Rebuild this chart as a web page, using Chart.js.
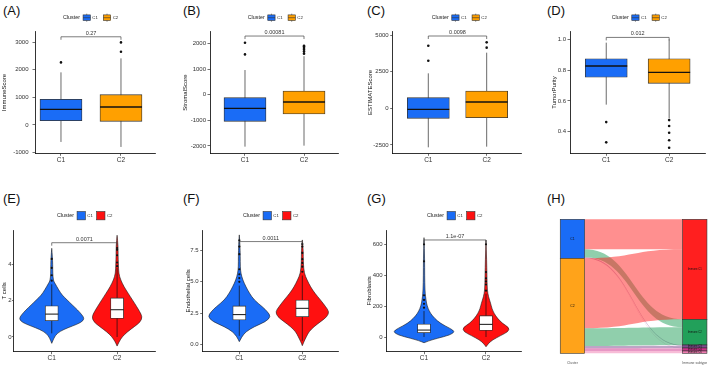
<!DOCTYPE html>
<html>
<head>
<meta charset="utf-8">
<title>Cluster comparison</title>
<script src="https://cdn.jsdelivr.net/npm/chart.js@4.4.1/dist/chart.umd.min.js"></script>
<style>
  body { margin: 0; width: 709px; height: 365px; position: relative; overflow: hidden; background: #fff; font-family: "Liberation Sans", Arial, sans-serif; }
  canvas { position: absolute; }
  .tag { position: absolute; font-size: 13px; line-height: 13px; color: #111; }
</style>
</head>
<body>
<div class="tag" style="left:3px;top:4px">(A)</div>
<div class="tag" style="left:183px;top:4px">(B)</div>
<div class="tag" style="left:367px;top:4px">(C)</div>
<div class="tag" style="left:547px;top:4px">(D)</div>
<div class="tag" style="left:3px;top:192px">(E)</div>
<div class="tag" style="left:183px;top:192px">(F)</div>
<div class="tag" style="left:367px;top:192px">(G)</div>
<div class="tag" style="left:547px;top:192px">(H)</div>
<script>
const FONT = "'Liberation Sans', Arial, sans-serif";

const groups = ["C1", "C2"];
const boxFill = ["#1a6cf6", "#ffa000"];
const violinFill = ["#1a6cf6", "#ff1010"];

// box plots: [lower whisker, Q1, median, Q3, upper whisker]
const immuneBox = [[-614, 157, 566, 928, 1904], [-795, 133, 651, 1096, 2410]];
const immuneOut = [[2265], [2651, 2988]];
const immuneTicks = [-1000, 0, 1000, 2000, 3000];

const stromalBox = [[-2026, -1039, -532, -117, 961], [-1987, -753, -286, 143, 1500]];
const stromalOut = [[1571, 2026], [1600, 1680, 1750, 1820, 1880, 1910]];
const stromalTicks = [-2000, -1000, 0, 1000, 2000];

const estimateBox = [[-2666, -684, -68, 729, 2393], [-2621, -638, 433, 1185, 3806]];
const estimateOut = [[3258, 4284], [4148, 4512]];
const estimateTicks = [-2500, 0, 2500, 5000];

const purityBox = [[0.576, 0.753, 0.826, 0.873, 0.977], [0.487, 0.714, 0.785, 0.873, 0.998]];
const purityOut = [[0.463, 0.332], [0.476, 0.438, 0.394, 0.345, 0.297]];
const purityTicks = [0.4, 0.6, 0.8, 1.0];

// violins: density profile (relative width) at each level, plus inner box
const tcellBox = [[0.2, 0.9, 1.26, 1.72, 2.9], [0.0, 1.02, 1.5, 2.15, 3.8]];
const tcellOut = [[3.1, 3.4, 3.8, 4.3], [3.9, 4.1, 4.5, 4.8, 4.9]];
const tcellTicks = [0, 2, 4];
const tcellLevels = [
  [-0.35, -0.07, 0.2, 0.42, 0.6, 0.8, 1.0, 1.21, 1.49, 1.76, 2.04, 2.3, 2.6, 2.95, 3.1, 3.5, 4.0, 4.4, 4.88],
  [-0.5, -0.26, 0.02, 0.29, 0.57, 0.84, 1.12, 1.4, 1.67, 2.04, 2.4, 2.77, 3.14, 3.5, 4.0, 4.5, 5.0, 5.6]
];
const tcellDensity = [
  [0, 0.06, 0.16, 0.37, 0.63, 0.9, 1, 0.93, 0.79, 0.63, 0.47, 0.32, 0.21, 0.1, 0.05, 0.03, 0.03, 0.02, 0],
  [0, 0.06, 0.16, 0.32, 0.53, 0.72, 0.77, 0.69, 0.6, 0.47, 0.34, 0.21, 0.11, 0.05, 0.04, 0.03, 0.03, 0]
];

const endoBox = [[0.7, 1.96, 2.39, 3.08, 4.7], [0.3, 2.23, 2.89, 3.55, 5.5]];
const endoOut = [[5.0, 5.3, 5.6, 6.0, 7.2, 7.8, 8.3], [5.8, 6.2, 6.5, 6.8, 7.3, 7.8, 8.0]];
const endoTicks = [0, 2.5, 5, 7.5];
const endoLevels = [
  [0.24, 0.64, 1.03, 1.43, 1.83, 2.23, 2.63, 3.0, 3.55, 4.1, 4.6, 5.15, 5.68, 6.2, 7.0, 8.0, 8.73],
  [-0.08, 0.24, 0.64, 1.03, 1.43, 1.83, 2.23, 2.63, 3.02, 3.55, 4.08, 4.6, 5.15, 5.68, 6.5, 7.5, 8.33]
];
const endoDensity = [
  [0, 0.08, 0.21, 0.47, 0.84, 1, 0.89, 0.74, 0.47, 0.32, 0.21, 0.11, 0.05, 0.03, 0.03, 0.02, 0],
  [0, 0.05, 0.13, 0.21, 0.37, 0.58, 0.79, 0.85, 0.74, 0.58, 0.4, 0.26, 0.15, 0.06, 0.03, 0.03, 0]
];

const fibroBox = [[0, 28, 45, 84, 168], [0, 43, 82, 138, 280]];
const fibroOut = [[190, 215, 240, 270, 490, 600], [300, 340, 360, 380, 420, 600]];
const fibroTicks = [0, 200, 400, 600];
const fibroLevels = [
  [-37, -24, -9, 13, 35, 56, 88, 121, 153, 185, 218, 261, 304, 400, 500, 643],
  [-63, -41, -19, 9, 35, 60, 88, 121, 153, 185, 218, 261, 304, 400, 500, 628]
];
const fibroDensity = [
  [0, 0.16, 0.42, 0.84, 1, 0.84, 0.53, 0.34, 0.21, 0.13, 0.08, 0.05, 0.03, 0.02, 0.02, 0],
  [0, 0.08, 0.21, 0.47, 0.72, 0.75, 0.53, 0.37, 0.26, 0.19, 0.15, 0.08, 0.04, 0.03, 0.02, 0]
];

// alluvial: sample counts, rows = cluster, columns = immune subtype
const clusterNames = ["C1", "C2"];
const subtypeNames = ["Immune C1", "Immune C2", "Immune C3", "Immune C4", "Immune C6"];
const clusterToSubtype = [
  [90, 24, 2, 1, 0],
  [210, 53, 7, 8, 7]
];
const clusterFill = ["#1a6cf6", "#ffa31a"];
const subtypeFill = ["#ff1f1f", "#22a05a", "#7e4a8e", "#d0308c", "#f07ab0"];

// ---------- panel layout (page pixels)
const topRow = { top: 8, height: 164, plotTop: 31.7, plotBottom: 153.3, legendY: 17.7 };
const botRow = { top: 200, height: 165, plotTop: 230, plotBottom: 351.7, legendY: 215.7 };

const panels = [
  { row: topRow, left: 0, width: 165, axisX: 35, plotRight: 155, xMin: 0.567, xMax: 2.567, yMin: -1025, yMax: 3375,
    title: "ImmuneScore", box: immuneBox, out: immuneOut, ticks: immuneTicks, dec: 0, pText: "0.27", pAt: 3191, legendX: 63, tickPad: 4 },
  { row: topRow, left: 181, width: 162, axisX: 210, plotRight: 338, xMin: 0.407, xMax: 2.576, yMin: -2285, yMax: 2455,
    title: "StromalScore", box: stromalBox, out: stromalOut, ticks: stromalTicks, dec: 0, pText: "0.00081", pAt: 2286, legendX: 247.7 },
  { row: topRow, left: 366, width: 161, axisX: 392.7, plotRight: 521.7, xMin: 0.39, xMax: 2.6, yMin: -3075, yMax: 5240,
    title: "ESTIMATEScore", box: estimateBox, out: estimateOut, ticks: estimateTicks, dec: 0, pText: "0.0098", pAt: 4945, legendX: 431.7 },
  { row: topRow, left: 550, width: 159, axisX: 570, plotRight: 705, xMin: 0.424, xMax: 2.57, yMin: 0.261, yMax: 1.048,
    title: "TumorPurity", box: purityBox, out: purityOut, ticks: purityTicks, dec: 1, pText: "0.012", pAt: 1.011, legendX: 611.7 },
  { row: botRow, left: 0, width: 160, axisX: 13.7, plotRight: 155, xMin: 0.418, xMax: 2.58, yMin: -0.81, yMax: 5.89, violin: true,
    title: "T cells", box: tcellBox, out: tcellOut, ticks: tcellTicks, dec: 0, levels: tcellLevels, density: tcellDensity, pText: "0.0071", pAt: 5.19, legendX: 57, tickPad: 0.3, tickLen: 1.8 },
  { row: botRow, left: 184, width: 159, axisX: 202.7, plotRight: 338.3, xMin: 0.419, xMax: 2.571, yMin: -0.56, yMax: 9.12, violin: true,
    title: "Endothelial cells", box: endoBox, out: endoOut, ticks: endoTicks, dec: 1, levels: endoLevels, density: endoDensity, pText: "0.0011", pAt: 8.2, legendX: 243 },
  { row: botRow, left: 365, width: 162, axisX: 386.7, plotRight: 521.7, xMin: 0.398, xMax: 2.576, yMin: -95, yMax: 692.6, violin: true,
    title: "Fibroblasts", box: fibroBox, out: fibroOut, ticks: fibroTicks, dec: 0, levels: fibroLevels, density: fibroDensity, pText: "1.1e-07", pAt: 628, legendX: 427 }
];

function makeCanvas(left, top, width, height) {
  const c = document.createElement("canvas");
  c.width = width;
  c.height = height;
  c.style.left = left + "px";
  c.style.top = top + "px";
  document.body.appendChild(c);
  return c.getContext("2d");
}

function hexAlpha(hex, a) {
  const n = parseInt(hex.slice(1), 16);
  return `rgba(${n >> 16},${(n >> 8) & 255},${n & 255},${a})`;
}

function drawLegend(ctx, x, y, fills, boxGlyph) {
  const w = boxGlyph ? 7.3 : 8.3, h = boxGlyph ? 5.6 : 8.3;
  ctx.save();
  ctx.textBaseline = "middle";
  ctx.fillStyle = "#222";
  ctx.font = `5.4px ${FONT}`;
  ctx.fillText("Cluster", x, y);
  x += ctx.measureText("Cluster").width + 3;
  groups.forEach((g, i) => {
    ctx.fillStyle = fills[i];
    ctx.fillRect(x, y - h / 2, w, h);
    ctx.strokeStyle = "#333";
    ctx.lineWidth = 0.6;
    ctx.strokeRect(x, y - h / 2, w, h);
    if (boxGlyph) {
      ctx.beginPath();
      ctx.moveTo(x, y); ctx.lineTo(x + w, y);
      ctx.moveTo(x + w / 2, y - h / 2 - 1.2); ctx.lineTo(x + w / 2, y - h / 2);
      ctx.moveTo(x + w / 2, y + h / 2); ctx.lineTo(x + w / 2, y + h / 2 + 1.2);
      ctx.stroke();
    }
    x += w + 2;
    ctx.fillStyle = "#222";
    ctx.font = `4.3px ${FONT}`;
    ctx.fillText(g, x, y);
    x += ctx.measureText(g).width + (boxGlyph ? 5.5 : 3.8);
  });
  ctx.restore();
}

function violinPath(ctx, x, y, i, levels, dens) {
  const pts = [];
  levels.forEach((lv, k) => pts.push([x.getPixelForValue(i + 1 + dens[k] * 0.5), y.getPixelForValue(lv)]));
  for (let k = levels.length - 1; k >= 0; k--) {
    pts.push([x.getPixelForValue(i + 1 - dens[k] * 0.5), y.getPixelForValue(levels[k])]);
  }
  ctx.beginPath();
  ctx.moveTo(pts[0][0], pts[0][1]);
  for (let k = 1; k < pts.length - 1; k++) {
    ctx.quadraticCurveTo(pts[k][0], pts[k][1], (pts[k][0] + pts[k + 1][0]) / 2, (pts[k][1] + pts[k + 1][1]) / 2);
  }
  ctx.lineTo(pts[pts.length - 1][0], pts[pts.length - 1][1]);
  ctx.closePath();
}

function statsPlugin(p) {
  const boxW = p.violin ? 13 : 42;
  return {
    id: "stats",
    beforeDatasetsDraw(chart) {
      const { ctx, scales: { x, y } } = chart;
      ctx.save();
      p.box.forEach((b, i) => {
        const cx = x.getPixelForValue(i + 1);
        if (p.violin) {
          violinPath(ctx, x, y, i, p.levels[i], p.density[i]);
          ctx.fillStyle = violinFill[i];
          ctx.fill();
          ctx.strokeStyle = "#1a1a1a";
          ctx.lineWidth = 0.6;
          ctx.stroke();
        }
        ctx.strokeStyle = p.violin ? "#111" : "#444";
        ctx.lineWidth = p.violin ? 0.7 : 0.8;
        ctx.beginPath();
        ctx.moveTo(cx, y.getPixelForValue(b[0]));
        ctx.lineTo(cx, y.getPixelForValue(b[4]));
        ctx.stroke();
      });
      ctx.restore();
    },
    afterDatasetsDraw(chart) {
      const { ctx, scales: { x, y } } = chart;
      ctx.save();
      ctx.strokeStyle = "#111";
      ctx.lineWidth = p.violin ? 1 : 1.3;
      p.box.forEach((b, i) => {
        const cx = x.getPixelForValue(i + 1), my = y.getPixelForValue(b[2]);
        ctx.beginPath();
        ctx.moveTo(cx - boxW / 2, my);
        ctx.lineTo(cx + boxW / 2, my);
        ctx.stroke();
      });
      ctx.restore();
    },
    afterDraw(chart) {
      const { ctx, scales: { x, y } } = chart;
      const x1 = x.getPixelForValue(1), x2 = x.getPixelForValue(2), by = y.getPixelForValue(p.pAt);
      ctx.save();
      ctx.strokeStyle = "#444";
      ctx.lineWidth = 0.7;
      ctx.beginPath();
      ctx.moveTo(x1, by + 3); ctx.lineTo(x1, by); ctx.lineTo(x2, by); ctx.lineTo(x2, by + 3);
      ctx.stroke();
      ctx.fillStyle = "#333";
      ctx.font = `5.5px ${FONT}`;
      ctx.textAlign = "center";
      ctx.textBaseline = "bottom";
      ctx.fillText(p.pText, (x1 + x2) / 2, by - 0.8);
      ctx.restore();
      drawLegend(ctx, p.legendX - p.left, p.row.legendY - p.row.top, p.violin ? violinFill : boxFill, !p.violin);
    }
  };
}

function panelChart(p) {
  const row = p.row;
  const ctx = makeCanvas(p.left, row.top, p.width, row.height);
  const xGrid = { drawOnChartArea: false, offset: false, tickLength: 2.5, color: "#333", lineWidth: 0.7 };
  const yGrid = { drawOnChartArea: false, offset: false, tickLength: p.tickLen || 2.5, color: "#333", lineWidth: 0.7 };
  const outliers = [];
  p.out.forEach((vals, i) => vals.forEach(v => outliers.push({ x: i + 1, y: v })));

  new Chart(ctx, {
    type: "bar",
    data: {
      datasets: [
        { type: "scatter", data: outliers, pointRadius: p.violin ? 1.1 : 1.3, pointBackgroundColor: "#111", pointBorderWidth: 0 },
        {
          data: p.box.map((b, i) => ({ x: i + 1, y: [b[1], b[3]] })),
          backgroundColor: p.violin ? "#ffffff" : boxFill,
          borderColor: "#333",
          borderWidth: 0.8,
          borderSkipped: false,
          barThickness: p.violin ? 13 : 42
        }
      ]
    },
    options: {
      responsive: false,
      animation: false,
      devicePixelRatio: 1,
      layout: { padding: { top: row.plotTop - row.top, right: p.left + p.width - p.plotRight, left: 0, bottom: 0 } },
      plugins: { legend: { display: false }, tooltip: { enabled: false } },
      scales: {
        x: {
          type: "linear", min: p.xMin, max: p.xMax, offset: false,
          afterFit: s => { s.height = row.top + row.height - row.plotBottom; },
          afterBuildTicks: s => { s.ticks = groups.map((g, i) => ({ value: i + 1 })); },
          ticks: { callback: v => groups[v - 1], font: { family: FONT, size: 6.5 }, color: "#333", padding: p.violin ? 0 : 1, maxRotation: 0, autoSkip: false },
          grid: xGrid,
          border: { color: "#000", width: 0.8 }
        },
        y: {
          type: "linear", min: p.yMin, max: p.yMax,
          afterFit: s => { s.width = p.axisX - p.left; },
          afterBuildTicks: s => { s.ticks = p.ticks.map(v => ({ value: v })); },
          ticks: { callback: v => v.toFixed(p.dec), font: { family: FONT, size: 6 }, color: "#333", padding: p.tickPad || 1.5, autoSkip: false },
          grid: yGrid,
          border: { color: "#000", width: 0.8 },
          title: { display: true, text: p.title, font: { family: FONT, size: 6 }, color: "#111", padding: { top: 1, bottom: 0 } }
        }
      }
    },
    plugins: [statsPlugin(p)]
  });
}

panels.forEach(panelChart);

// ---------- (H) alluvial plot
function alluvialPlugin() {
  return {
    id: "alluvium",
    afterDraw(chart) {
      const { ctx, scales: { x, y } } = chart;
      const sum = a => a.reduce((s, v) => s + v, 0);
      const leftTop = [];
      let acc = 0;
      clusterToSubtype.forEach(row => { leftTop.push(acc); acc += sum(row); });
      const subTotal = subtypeNames.map((_, j) => sum(clusterToSubtype.map(row => row[j])));
      const rightTop = [];
      acc = 0;
      subTotal.forEach(t => { rightTop.push(acc); acc += t; });

      const lCur = leftTop.slice(), rCur = rightTop.slice();
      const xa = x.getPixelForValue(1.1), xb = x.getPixelForValue(1.9), xm = (xa + xb) / 2;
      ctx.save();
      clusterToSubtype.forEach((row, i) => row.forEach((n, j) => {
        if (!n) return;
        const l0 = y.getPixelForValue(lCur[i]), l1 = y.getPixelForValue(lCur[i] + n);
        const r0 = y.getPixelForValue(rCur[j]), r1 = y.getPixelForValue(rCur[j] + n);
        lCur[i] += n;
        rCur[j] += n;
        ctx.beginPath();
        ctx.moveTo(xa, l0);
        ctx.bezierCurveTo(xm, l0, xm, r0, xb, r0);
        ctx.lineTo(xb, r1);
        ctx.bezierCurveTo(xm, r1, xm, l1, xa, l1);
        ctx.closePath();
        ctx.fillStyle = hexAlpha(subtypeFill[j], 0.5);
        ctx.fill();
      }));

      const stratum = (axisVal, top, n, fill, label, size) => {
        const x0 = x.getPixelForValue(axisVal - 0.1), x1 = x.getPixelForValue(axisVal + 0.1);
        const y0 = y.getPixelForValue(top), y1 = y.getPixelForValue(top + n);
        ctx.fillStyle = fill;
        ctx.fillRect(x0, y0, x1 - x0, y1 - y0);
        ctx.strokeStyle = "#333";
        ctx.lineWidth = 0.6;
        ctx.strokeRect(x0, y0, x1 - x0, y1 - y0);
        ctx.fillStyle = "#111";
        ctx.font = `${size}px ${FONT}`;
        ctx.textAlign = "center";
        ctx.textBaseline = "middle";
        ctx.fillText(label, (x0 + x1) / 2, (y0 + y1) / 2);
      };
      clusterNames.forEach((c, i) => stratum(1, leftTop[i], sum(clusterToSubtype[i]), clusterFill[i], c, 3.4));
      subtypeNames.forEach((s, j) => stratum(2, rightTop[j], subTotal[j], subtypeFill[j], s, 2.7));

      ctx.fillStyle = "#555";
      ctx.font = `3.4px ${FONT}`;
      ctx.textAlign = "center";
      ctx.textBaseline = "middle";
      const labY = chart.chartArea.bottom + 9.4;
      ctx.fillText("Cluster", x.getPixelForValue(1), labY);
      ctx.fillText("Immune subtype", x.getPixelForValue(2), labY);
      ctx.restore();
    }
  };
}

const alluvialTotal = clusterToSubtype.flat().reduce((s, v) => s + v, 0);
new Chart(makeCanvas(555, 214, 154, 151), {
  type: "scatter",
  data: { datasets: [] },
  options: {
    responsive: false,
    animation: false,
    devicePixelRatio: 1,
    layout: { padding: { left: 5, top: 5.3, right: 2.3, bottom: 11.7 } },
    plugins: { legend: { display: false }, tooltip: { enabled: false } },
    scales: {
      x: { type: "linear", min: 0.898, max: 2.098, display: false },
      y: { type: "linear", min: 0, max: alluvialTotal, reverse: true, display: false }
    }
  },
  plugins: [alluvialPlugin()]
});
</script>
</body>
</html>
